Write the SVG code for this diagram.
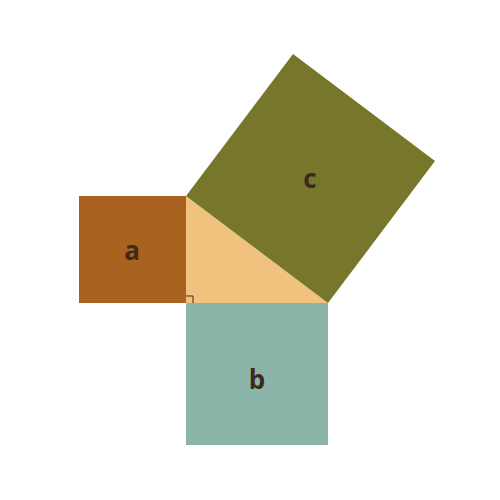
<svg xmlns="http://www.w3.org/2000/svg" width="500" height="500" viewBox="0 0 500 500">
<style>
text{font-family:"Open Sans","DejaVu Sans",sans-serif;font-weight:bold;font-size:26px;fill:#3d2a1a;text-anchor:middle;dominant-baseline:central}
</style>
<rect width="500" height="500" fill="#fff"/>
<g id="triangle"><polygon points="186,196 328,303 186,303" fill="#f0c27d"/></g>
<g id="square-a"><rect x="79" y="196" width="107" height="107" fill="#a9621f"/><text x="132" y="250">a</text></g>
<g id="square-b"><rect x="186" y="303" width="142" height="142" fill="#8ab5a8"/><text x="257" y="379">b</text></g>
<g id="square-c"><polygon points="186,196 328,303 435,161 293,54" fill="#76772b"/><text x="310" y="178">c</text></g>
<g id="right-angle"><polyline points="186,296 193,296 193,303" fill="none" stroke="#3d2a1a" stroke-width="1"/></g>
</svg>
